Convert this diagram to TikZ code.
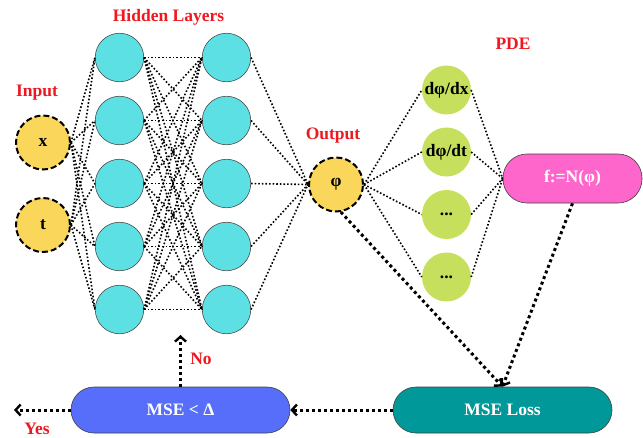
\documentclass[tikz,border=0pt]{standalone}
\usepackage{fontspec}
\setmainfont{Liberation Serif}
\usetikzlibrary{arrows.meta}
\definecolor{cyanfill}{RGB}{93,224,228}
\definecolor{yellowfill}{RGB}{250,214,90}
\definecolor{greenfill}{RGB}{198,224,94}
\definecolor{pinkfill}{RGB}{255,102,204}
\definecolor{bluefill}{RGB}{86,110,250}
\definecolor{tealfill}{RGB}{0,152,152}
\definecolor{labred}{RGB}{238,24,32}
\begin{document}
\begin{tikzpicture}[x=1pt,y=-1pt,
  every node/.style={font=\bfseries\fontsize{17.5}{20}\selectfont},
  hid/.style={circle, draw=black!70, line width=0.6pt, fill=cyanfill, minimum size=48.5pt, inner sep=0pt},
  inp/.style={circle, draw=black, line width=2pt, dash pattern=on 6pt off 3pt, fill=yellowfill, minimum size=54pt, inner sep=0pt},
  pde/.style={circle, fill=greenfill, minimum size=49pt, inner sep=0pt},
  rbox/.style={rounded corners=23pt, draw=black!75, line width=0.6pt, minimum width=219pt, minimum height=46pt, text=white, inner sep=0pt},
  conn/.style={line width=1.6pt, dash pattern=on 1.6pt off 2pt},
  bigarrow/.style={line width=3pt, dash pattern=on 3pt off 3pt, -{Straight Barb[length=5pt,width=11pt,line width=2.4pt]}},
  lab/.style={text=labred}
]
\useasboundingbox (0,0) rectangle (643,437);

% nodes
\node[inp] (x) at (43,142.5) {x};
\node[inp] (t) at (43,225) {t};
\foreach \i/\y in {1/57.5,2/120.5,3/183.5,4/246.5,5/309.5} {
  \node[hid] (a\i) at (119.5,\y) {};
  \node[hid] (b\i) at (226.5,\y) {};
}
\node[inp] (phi) at (336,184.5) {φ};
\node[pde] (g1) at (446.5,90) {dφ/dx};
\node[pde] (g2) at (446.5,152) {dφ/dt};
\node[pde] (g3) at (446.5,214.5) {...};
\node[pde] (g4) at (446.5,277) {...};
\node[rbox, fill=pinkfill, minimum width=139pt, minimum height=49pt, rounded corners=24pt] (f) at (572.5,178.5) {f:=N(φ)};
\node[rbox, fill=tealfill] (loss) at (502.5,410) {MSE Loss};
\node[rbox, fill=bluefill] (mse) at (180.5,410) {MSE < Δ};

% labels
\node[lab] (linput) at (37,93) {Input};
\node[lab] (lhidden) at (168.5,17) {Hidden Layers};
\node[lab] (loutput) at (333,136) {Output};
\node[lab] (lpde) at (513,44) {PDE};
\node[lab] (lno) at (201,359) {No};
\node[lab] (lyes) at (37,429) {Yes};

% connectors
\foreach \s in {x,t} \foreach \i in {1,...,5} \draw[conn] (\s.east) -- (a\i.west);
\foreach \i in {1,...,5} \foreach \j in {1,...,5} \draw[conn] (a\i.east) -- (b\j.west);
\foreach \i in {1,...,5} \draw[conn] (b\i.east) -- (phi.west);
\foreach \i in {1,...,4} {
  \draw[conn] (phi.east) -- (g\i.west);
  \draw[conn] (g\i.east) -- (f.west);
}

% arrows
\coordinate (noend) at (180.5,335);
\coordinate (yesend) at (14,410);
\draw[bigarrow] (phi.-80) -- (loss.north);
\draw[bigarrow] (f.south) -- (loss.north);
\draw[bigarrow] (loss.west) -- (mse.east);
\draw[bigarrow] (mse.north) -- (noend);
\draw[bigarrow] (mse.west) -- (yesend);
\end{tikzpicture}
\end{document}
